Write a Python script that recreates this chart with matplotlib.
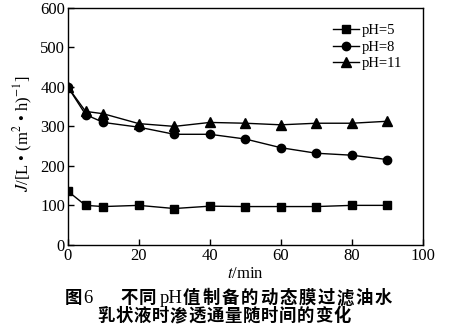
import matplotlib
matplotlib.use("Agg")
import matplotlib.pyplot as plt

t = [0, 5, 10, 20, 30, 40, 50, 60, 70, 80, 90]
ph5 = [136, 100, 97, 100, 92, 98, 97, 97, 97, 100, 100]
ph8 = [400, 330, 310, 298, 280, 280, 268, 246, 232, 227, 216]
ph11 = [400, 338, 332, 307, 300, 310, 308, 304, 308, 308, 313]
labels = ["pH=5", "pH=8", "pH=11"]
xticks = [0, 20, 40, 60, 80, 100]
yticks = [0, 100, 200, 300, 400, 500, 600]

plt.rcParams['font.family'] = ['Liberation Serif', 'DejaVu Serif']
plt.rcParams['mathtext.fontset'] = 'stix'

W, H = 449, 330
fig = plt.figure(figsize=(W / 100, H / 100), dpi=100)
ax = fig.add_axes([0.151, 0.258, 0.791, 0.718])

ax.plot(t, ph5, '-s', color='black', lw=1, ms=6, label=labels[0])
ax.plot(t, ph8, '-o', color='black', lw=1, ms=6, label=labels[1])
ax.plot(t, ph11, '-^', color='black', lw=1, ms=7, label=labels[2])

ax.set_xlim(0, 100)
ax.set_ylim(0, 600)
ax.set_xticks(xticks)
ax.set_yticks(yticks)
ax.tick_params(direction='in', labelsize=12, length=4, width=1, pad=2)
for s in ax.spines.values():
    s.set_linewidth(1)

ax.set_xlabel(r'$t$/min', fontsize=12, labelpad=2)
ax.set_ylabel(r'$J$/[L • (m$^2$ • h)$^{-1}$]', fontsize=12)
ax.yaxis.set_label_coords(-0.093, 0.47)

leg = ax.legend(loc='upper right', frameon=False, fontsize=10.5, handlelength=1.8,
                handletextpad=0.2, labelspacing=0.22, borderaxespad=0.3,
                bbox_to_anchor=(0.97, 0.975))

cjk = ['Noto Sans CJK SC']
serif = ['Liberation Serif']
fs = 12.5
step = 19.2


def put(x, yb, s, family, bold=True, size=fs):
    fig.text(x / W, 1 - yb / H, s, fontsize=size, fontweight='bold' if bold else 'normal',
             family=family, va='baseline', ha='left')


yb1 = 303
put(65, yb1, '图', cjk)
put(83, yb1, '6', serif, bold=False, size=13.5)
put(120, yb1, '不', cjk)
put(139, yb1, '同', cjk)
put(160, yb1, 'pH', serif, bold=False, size=13.5)
for i, ch in enumerate('值制备的动态膜过滤油水'):
    put(183 + i * step, yb1, ch, cjk)

yb2 = 321
for i, ch in enumerate('乳状液时渗透通量随时间的变化'):
    put(97 + i * 18.2, yb2, ch, cjk)

fig.savefig('out.png', dpi=100)
